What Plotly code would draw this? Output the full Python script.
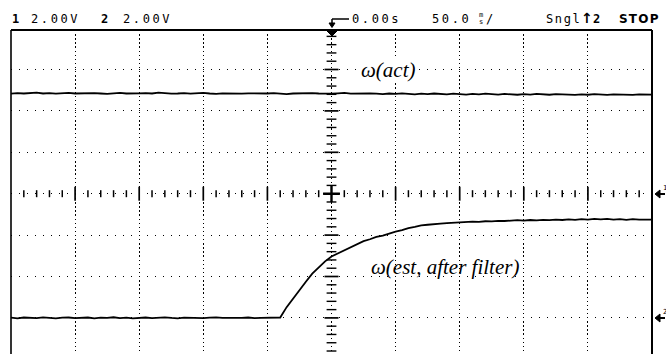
import plotly.graph_objects as go

# ---------------- data ----------------
TIME_MS = list(range(-250, 255, 5))          # sample times, ms (50 ms/div, centre = 0.00 s)

CH1_VOLTS = [                                 # omega(act), channel 1, volts
    4.83, 4.86, 4.84, 4.85, 4.88, 4.84, 4.86, 4.83, 4.85, 4.87,
    4.84, 4.85, 4.83, 4.86, 4.84, 4.82, 4.85, 4.87, 4.84, 4.83,
    4.85, 4.86, 4.84, 4.88, 4.85, 4.83, 4.84, 4.86, 4.83, 4.85,
    4.87, 4.84, 4.82, 4.85, 4.84, 4.86, 4.83, 4.85, 4.84, 4.82,
    4.84, 4.86, 4.83, 4.81, 4.84, 4.85, 4.83, 4.86, 4.84, 4.82,
    4.83, 4.85, 4.87, 4.83, 4.84, 4.82, 4.85, 4.83, 4.81, 4.84,
    4.82, 4.85, 4.83, 4.80, 4.83, 4.81, 4.84, 4.82, 4.80, 4.83,
    4.81, 4.79, 4.82, 4.80, 4.83, 4.81, 4.79, 4.82, 4.80, 4.78,
    4.81, 4.79, 4.82, 4.80, 4.78, 4.81, 4.79, 4.80, 4.77, 4.80,
    4.78, 4.81, 4.79, 4.77, 4.80, 4.78, 4.79, 4.77, 4.80, 4.78,
    4.79,
]

CH2_VOLTS = [                                 # omega(est, after filter), channel 2, volts
    0.01, -0.02, 0.02, 0.00, -0.01, 0.03, 0.00, -0.02, 0.01, 0.02,
    -0.01, 0.00, 0.02, -0.02, 0.01, 0.00, 0.03, -0.01, 0.01, -0.02,
    0.00, 0.02, -0.01, 0.01, 0.03, 0.00, -0.02, 0.01, 0.00, 0.02,
    -0.01, 0.01, 0.03, 0.00, -0.01, 0.01, 0.00, 0.02, -0.01, 0.00,
    0.01, 0.00, 0.02,
    0.52, 0.95, 1.38, 1.75, 2.14, 2.43, 2.73,
    2.97, 3.12, 3.25, 3.42, 3.58, 3.71, 3.80, 3.91, 3.98, 4.09,
    4.17, 4.24, 4.34, 4.40, 4.47, 4.50, 4.54, 4.55, 4.58, 4.60,
    4.63, 4.62, 4.65, 4.64, 4.67, 4.66, 4.69, 4.68, 4.70, 4.72,
    4.70, 4.73, 4.71, 4.74, 4.72, 4.75, 4.73, 4.76, 4.74, 4.77,
    4.75, 4.78, 4.76, 4.78, 4.75, 4.77, 4.74, 4.77, 4.75, 4.76,
    4.75,
]

CH_LABELS = ["ω(act)", "ω(est, after filter)"]
HEADER = ["2.00V", "2.00V", "0.00s", "50.0", "Sngl", "STOP"]

# ---------------- scope settings ----------------
MS_PER_DIV = 50.0
VOLTS_PER_DIV = [2.0, 2.0]
GROUND_DIV = [0.0, -3.0]

W, H = 666, 354
L, R, T, B = 11, 14, 30, 0
CX, CY = 331.5, 193.7          # pixel centre of graticule
DX, DY = 64.1, 41.4            # pixel size of one division
PW, PH = W - L - R, H - T - B

def px2x(px):
    return (px - CX) / DX

def py2y(py):
    return (CY - py) / DY

def ppx(px):
    return (px - L) / PW

def ppy(py):
    return (H - B - py) / PH

Y_TOP = py2y(T)
Y_BOT = py2y(H - B)

x1 = [t / MS_PER_DIV for t in TIME_MS]
y1 = [v / VOLTS_PER_DIV[0] + GROUND_DIV[0] for v in CH1_VOLTS]
y2 = [v / VOLTS_PER_DIV[1] + GROUND_DIV[1] for v in CH2_VOLTS]

fig = go.Figure()

# centre-line tick marks (graticule)
minor = [k * 0.2 for k in range(-24, 25) if k % 5 != 0]
major = [k for k in range(-4, 5) if k != 0]
fig.add_trace(go.Scatter(x=minor, y=[0] * len(minor), mode="markers", hoverinfo="skip",
                         marker=dict(symbol="line-ns", size=5, line=dict(width=1.5, color="black"))))
fig.add_trace(go.Scatter(x=major, y=[0] * len(major), mode="markers", hoverinfo="skip",
                         marker=dict(symbol="line-ns", size=10, line=dict(width=1.7, color="black"))))
vminor = [k * 0.2 for k in range(-19, 20) if k % 5 != 0]
vmajor = [k for k in range(-3, 4) if k != 0]
fig.add_trace(go.Scatter(x=[0] * len(vminor), y=vminor, mode="markers", hoverinfo="skip",
                         marker=dict(symbol="line-ew", size=7, line=dict(width=1.4, color="black"))))
fig.add_trace(go.Scatter(x=[0] * len(vmajor), y=vmajor, mode="markers", hoverinfo="skip",
                         marker=dict(symbol="line-ew", size=10, line=dict(width=1.7, color="black"))))
fig.add_trace(go.Scatter(x=[0], y=[0], mode="markers", hoverinfo="skip",
                         marker=dict(symbol="cross-thin", size=12, line=dict(width=2.4, color="black"))))

# signal traces
fig.add_trace(go.Scatter(x=x1, y=y1, mode="lines", name=CH_LABELS[0],
                         line=dict(color="black", width=1.8)))
fig.add_trace(go.Scatter(x=x1, y=y2, mode="lines", name=CH_LABELS[1],
                         line=dict(color="black", width=1.8)))

mono = "DejaVu Sans Mono"
def sp(txt, ls=2.6):
    return f'<span style="letter-spacing:{ls}px">{txt}</span>'

ann = []
def add_text(text, px, py, size=12, family=mono, xanchor="left", bg=None, color="black"):
    d = dict(text=text, x=ppx(px), y=ppy(py), xref="paper", yref="paper", showarrow=False,
             xanchor=xanchor, yanchor="middle", font=dict(family=family, size=size, color=color))
    if bg:
        d["bgcolor"] = bg
        d["borderpad"] = 0
    ann.append(d)

# header line
add_text("<b>1</b>", 10, 19)
add_text(sp(HEADER[0]), 29, 19)
add_text("<b>2</b>", 99, 19)
add_text(sp(HEADER[1]), 121, 19)
add_text(sp(HEADER[2]), 350, 19)
add_text(sp(HEADER[3]), 430, 19)
add_text("m", 481, 15, size=7, xanchor="center")
add_text("s", 481, 22, size=7, xanchor="center")
add_text("/", 484, 19)
add_text(sp(HEADER[4], 1.6), 544, 19)
add_text("<b>↑</b>", 579, 18, size=14, family="DejaVu Sans")
add_text("<b>2</b>", 591, 19)
add_text(sp("<b>" + HEADER[5] + "</b>", 1.2), 617, 19, family="DejaVu Sans")

# channel ground marker labels on right
add_text("1", 660.5, 187.5, size=7)
add_text("2", 660.5, 311.5, size=7)

# trace labels
add_text("<i>" + CH_LABELS[0] + "</i>", 388, 70, size=21, family="Liberation Serif",
         xanchor="center", bg="white")
add_text("<i>" + CH_LABELS[1] + "</i>", 445, 267, size=21, family="Liberation Serif",
         xanchor="center")

def pline(xa, ya, xb, yb, w=1.5):
    return dict(type="line", xref="paper", yref="paper", x0=ppx(xa), x1=ppx(xb),
                y0=ppy(ya), y1=ppy(yb), line=dict(color="black", width=w))

def ptri(pts):
    path = "M " + " L ".join(f"{ppx(a)} {ppy(b)}" for a, b in pts) + " Z"
    return dict(type="path", xref="paper", yref="paper", path=path,
                fillcolor="black", line=dict(color="black", width=1))

shapes = [
    dict(type="line", xref="paper", yref="paper", x0=0, x1=0, y0=0, y1=1,
         line=dict(color="black", width=1.6)),
    dict(type="line", xref="paper", yref="paper", x0=0, x1=1, y0=1, y1=1,
         line=dict(color="black", width=2.2)),
    dict(type="line", xref="paper", yref="paper", x0=1, x1=1, y0=0, y1=1,
         line=dict(color="black", width=2.0)),
    # trigger position marker
    pline(332, 19, 349, 19),
    pline(332, 19, 332, 24),
    ptri([(329, 23), (335, 23), (332, 27.5)]),
    ptri([(326, 30), (338, 30), (332, 36)]),
    # channel ground arrows (right edge)
    ptri([(655, 194), (660, 190), (660, 198)]),
    pline(659, 194, 665, 194, w=2),
    ptri([(655, 318), (660, 314), (660, 322)]),
    pline(659, 318, 665, 318, w=2),
]

fig.update_layout(
    width=W, height=H,
    margin=dict(l=L, r=R, t=T, b=B, pad=0),
    paper_bgcolor="white", plot_bgcolor="white",
    showlegend=False,
    annotations=ann, shapes=shapes,
    xaxis=dict(range=[-5, 5], tick0=0, dtick=1, showgrid=True, gridcolor="black",
               gridwidth=1.4, griddash="1.4px,2.7px", zeroline=False, showline=False,
               showticklabels=False, ticks="", fixedrange=True),
    yaxis=dict(range=[Y_BOT, Y_TOP], tick0=0, dtick=1, showgrid=True, gridcolor="black",
               gridwidth=1.4, griddash="1.4px,6.6px", zeroline=False, showline=False,
               showticklabels=False, ticks="", fixedrange=True),
)

fig.write_html("out.html")
